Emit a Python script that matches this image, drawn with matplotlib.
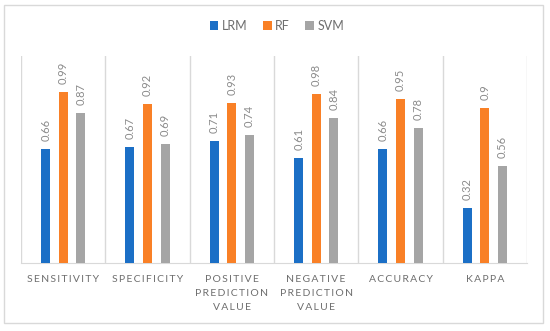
import matplotlib
matplotlib.use("Agg")
import matplotlib.pyplot as plt
from matplotlib.patches import Rectangle
import numpy as np

plt.rcParams['font.family'] = ['Lato', 'DejaVu Sans']

categories = ["SENSITIVITY", "SPECIFICITY", "POSITIVE\nPREDICTION\nVALUE",
              "NEGATIVE\nPREDICTION\nVALUE", "ACCURACY", "KAPPA"]
series_names = ["LRM", "RF", "SVM"]
lrm = [0.66, 0.67, 0.71, 0.61, 0.66, 0.32]
rf = [0.99, 0.92, 0.93, 0.98, 0.95, 0.90]
svm = [0.87, 0.69, 0.74, 0.84, 0.78, 0.56]
colors = ["#1B6FC6", "#F98026", "#A5A5A5"]

W, H = 550, 331
fig = plt.figure(figsize=(W / 100, H / 100), dpi=100)

# outer chart border
fig.patches.append(Rectangle((4 / W, (H - 323) / H), 539 / W, 318 / H,
                             transform=fig.transFigure, fill=False,
                             edgecolor="#d9d9d9", linewidth=1.0))

ax = fig.add_axes([21 / W, (H - 263) / H, 506 / W, 207 / H])
x = np.arange(len(categories))
bw = 0.107
offs = [-0.208, 0.0, 0.208]
for vals, off, col, name in zip([lrm, rf, svm], offs, colors, series_names):
    bars = ax.bar(x + off, vals, width=bw, color=col, label=name, zorder=3)
    for b, v in zip(bars, vals):
        ax.annotate(f"{v:g}", xy=(b.get_x() + b.get_width() / 2, v),
                    xytext=(0, 8), textcoords="offset pixels",
                    rotation=90, ha="center", va="bottom",
                    fontsize=8, color="#8a8a8a")

ax.set_xlim(-0.5, len(categories) - 0.5)
ax.set_ylim(0, 1.2)
for b in np.arange(-0.5, len(categories), 1.0):
    ax.axvline(b, color="#d9d9d9", linewidth=1.0, zorder=1)
for s in ["top", "right", "left"]:
    ax.spines[s].set_visible(False)
ax.spines["bottom"].set_color("#d9d9d9")
ax.set_xticks([])
ax.set_yticks([])


def spaced(t):
    return "\n".join("\u2009".join(list(line)) for line in t.split("\n"))


for i, c in enumerate(categories):
    ax.annotate(spaced(c), xy=(i, 0), xycoords=("data", "axes fraction"),
                xytext=(0, -12), textcoords="offset pixels",
                ha="center", va="top", multialignment="center",
                fontsize=7.5, color="#6e6e6e", linespacing=1.75)

fig.legend(loc="center", bbox_to_anchor=(277 / W, (H - 26) / H), ncol=3,
           frameon=False, fontsize=9, handlelength=0.7, handleheight=0.7,
           handletextpad=0.3, columnspacing=1.2, labelcolor="#6e6e6e")

fig.savefig("out.png", dpi=100, facecolor="white")
